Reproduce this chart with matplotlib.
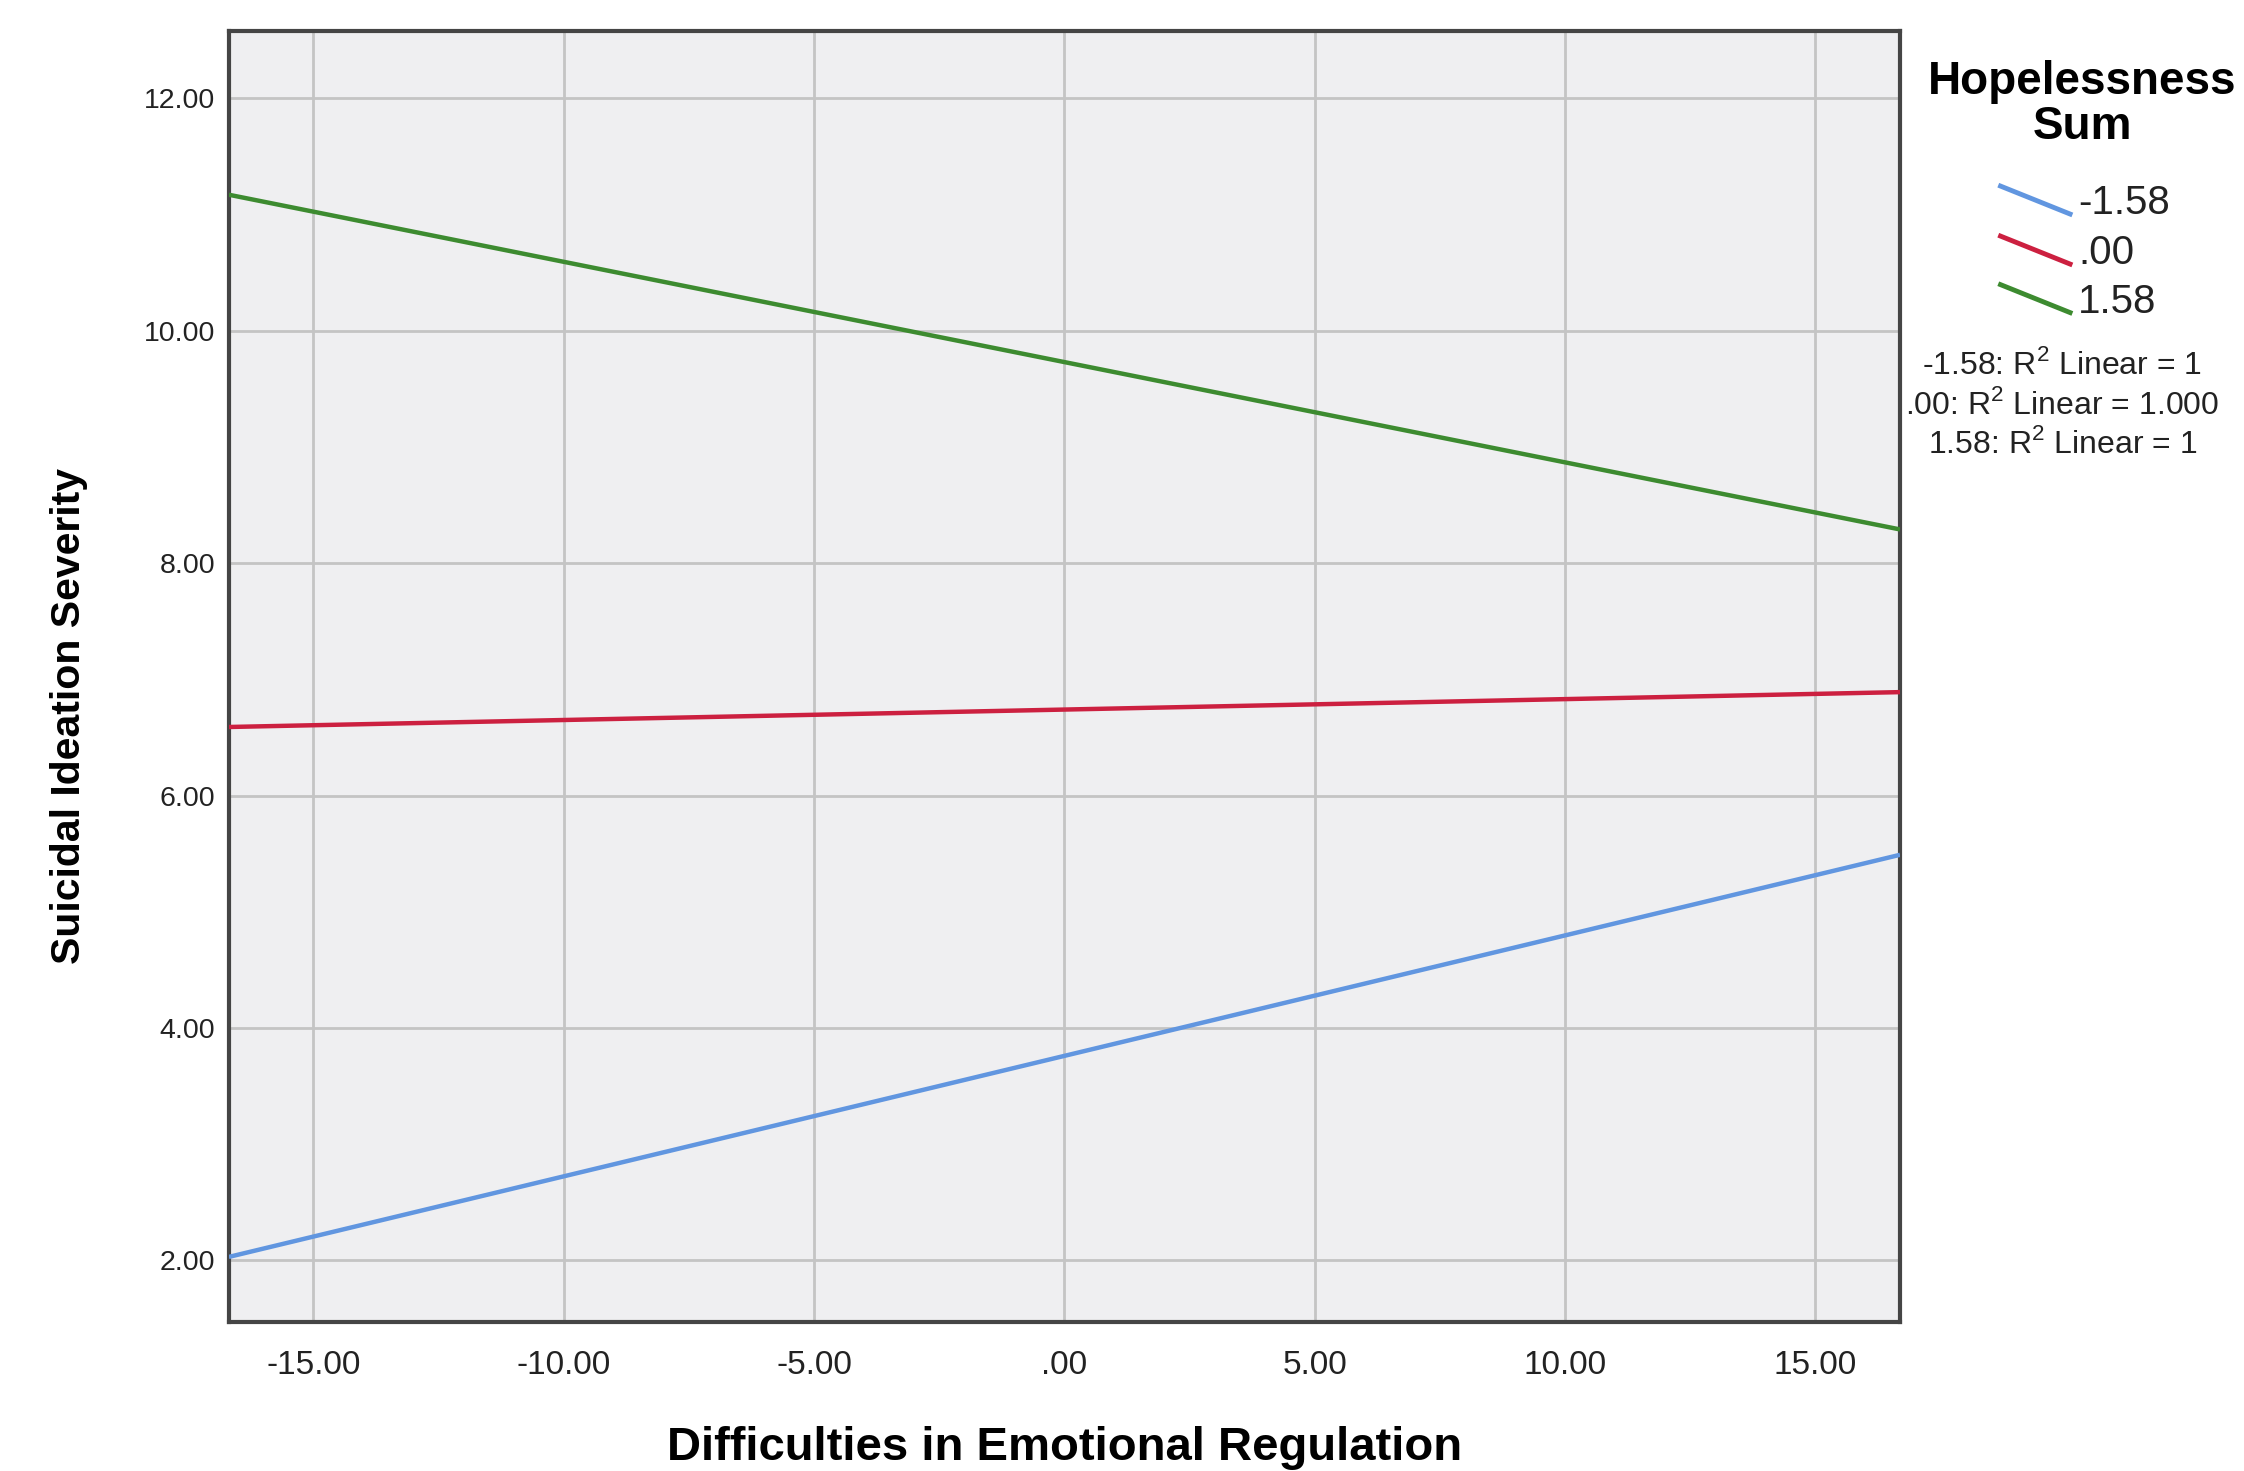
import numpy as np
import matplotlib.pyplot as plt
from matplotlib.lines import Line2D

plt.rcParams['font.family'] = ['Liberation Sans', 'DejaVu Sans']
plt.rcParams['mathtext.fontset'] = 'custom'
plt.rcParams['mathtext.rm'] = 'Liberation Sans'

# --- data: fitted simple slopes at the ends of the x range ---
x_ends = [-16.69, 16.69]
groups = ["-1.58", ".00", "1.58"]
y_low = [2.03, 5.49]     # hopelessness -1.58
y_mid = [6.59, 6.89]     # hopelessness .00
y_high = [11.17, 8.29]   # hopelessness 1.58
r2_labels = ["1", "1.000", "1"]

x_ticks = [-15, -10, -5, 0, 5, 10, 15]
x_ticklabels = ["-15.00", "-10.00", "-5.00", ".00", "5.00", "10.00", "15.00"]
y_ticks = [2, 4, 6, 8, 10, 12]
y_ticklabels = ["2.00", "4.00", "6.00", "8.00", "10.00", "12.00"]

colors = ["#6196e0", "#cc2040", "#3d8b30"]

fig = plt.figure(figsize=(22.44, 14.71), dpi=100)
ax = fig.add_axes([0.102, 0.1013, 0.7447, 0.8777])
ax.set_facecolor("#efeff1")

for ys, c in zip([y_low, y_mid, y_high], colors):
    ax.plot(x_ends, ys, color=c, linewidth=3.2, solid_capstyle="butt", zorder=3)

ax.set_xlim(-16.69, 16.69)
ax.set_ylim(1.47, 12.58)
ax.set_xticks(x_ticks)
ax.set_xticklabels(x_ticklabels)
ax.set_yticks(y_ticks)
ax.set_yticklabels(y_ticklabels)
ax.tick_params(length=0, colors="#222222")
ax.tick_params(axis="x", pad=20, labelsize=24)
ax.tick_params(axis="y", pad=10, labelsize=20.5)
ax.grid(True, color="#c4c4c4", linewidth=2.0)
ax.set_axisbelow(True)
for s in ax.spines.values():
    s.set_color("#454545")
    s.set_linewidth(3)

ax.set_xlabel("Difficulties in Emotional Regulation", fontsize=34, fontweight="bold",
              va="center")
ax.xaxis.set_label_coords(0.5, -0.0976)
ax.set_ylabel("Suicidal Ideation Severity", fontsize=29.5, fontweight="bold",
              va="center")
ax.yaxis.set_label_coords(-0.0957, 0.469)

# --- legend (SPSS style, slanted line samples) ---
fig.text(0.928, 0.959, "Hopelessness\nSum", ha="center", va="top", fontsize=33,
         fontweight="bold", linespacing=1.02)
leg_y = [0.864, 0.830, 0.797]
for g, c, yy in zip(groups, colors, leg_y):
    fig.add_artist(Line2D([0.8915, 0.9225], [yy + 0.0095, yy - 0.0095], color=c,
                          linewidth=3.5, transform=fig.transFigure))
    fig.text(0.926, yy - 0.002, g, ha="left", va="center", fontsize=29, color="#222222")

r2_y = [0.752, 0.725, 0.698]
for g, r, yy in zip(groups, r2_labels, r2_y):
    fig.text(0.919, yy, f"{g}: R$^2$ Linear = {r}", ha="center", va="center",
             fontsize=23, color="#222222")

fig.savefig("out.png", dpi=100)
